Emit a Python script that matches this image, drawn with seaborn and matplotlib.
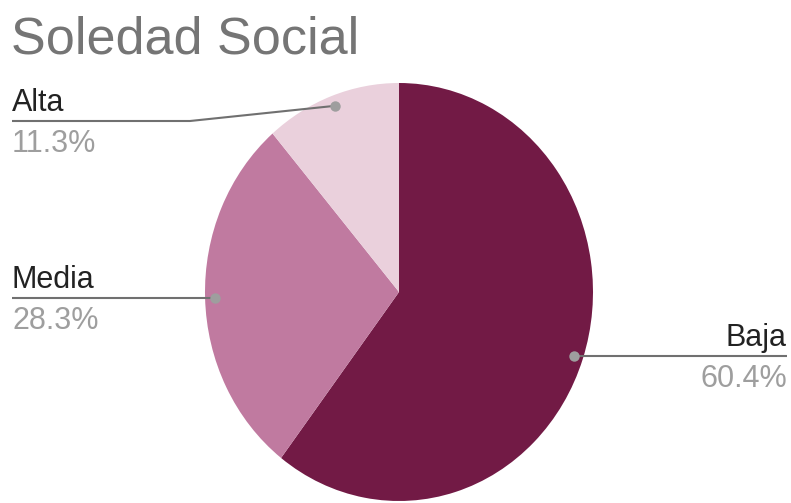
import numpy as np
import matplotlib.pyplot as plt
import seaborn as sns

# data
categories = ["Baja", "Media", "Alta"]
percentages = [60.4, 28.3, 11.3]
colors = ["#721a45", "#c07aa0", "#ead0dc"]
pct_labels = ["60.4%", "28.3%", "11.3%"]
title = "Soledad Social"

W, H = 791, 503
# pie box in pixels (reference is slightly stretched vertically)
CX, CY, RX, RY = 399, 292, 194, 209

sns.set_theme(style="white")
plt.rcParams["font.family"] = ["Liberation Sans", "DejaVu Sans"]

fig = plt.figure(figsize=(W / 100, H / 100), dpi=100)

ax = fig.add_axes([(CX - RX) / W, 1 - (CY + RY) / H, 2 * RX / W, 2 * RY / H])
ax.pie(percentages, colors=colors, startangle=90, counterclock=False,
       radius=1, wedgeprops=dict(linewidth=0))
ax.set_aspect("auto")
ax.set_xlim(-1, 1)
ax.set_ylim(-1, 1)
ax.axis("off")

# overlay in pixel coordinates for labels / leader lines
ov = fig.add_axes([0, 0, 1, 1])
ov.set_xlim(0, W)
ov.set_ylim(H, 0)
ov.axis("off")
ov.patch.set_alpha(0)

ov.text(11, 53, title, fontsize=37.5, color="#757575", va="baseline", ha="left")

total = sum(percentages)
cum = np.cumsum([0] + percentages[:-1])
sides = ["right", "left", "left"]
elbows = [None, None, (190, 121)]

for i, cat in enumerate(categories):
    mid = np.radians(90 - 360 * (cum[i] + percentages[i] / 2) / total)
    dx = CX + 0.95 * RX * np.cos(mid)
    dy = CY - 0.95 * RY * np.sin(mid)
    if elbows[i] is not None:
        ex, ly = elbows[i]
    else:
        ex, ly = dx, dy
    if sides[i] == "left":
        xs, tx, ha = [12, ex, dx], 12, "left"
    else:
        xs, tx, ha = [787, ex, dx], 787, "right"
    ov.plot(xs, [ly, ly, dy], color="#707070", lw=1.5, solid_capstyle="butt")
    ov.plot([dx], [dy], "o", ms=7.5, color="#9e9e9e", mec="none")
    ov.text(tx, ly - 10, cat, fontsize=22, color="#222222", ha=ha, va="baseline")
    ov.text(tx, ly + 31, pct_labels[i], fontsize=22, color="#9e9e9e", ha=ha, va="baseline")

fig.savefig("out.png", dpi=100)
